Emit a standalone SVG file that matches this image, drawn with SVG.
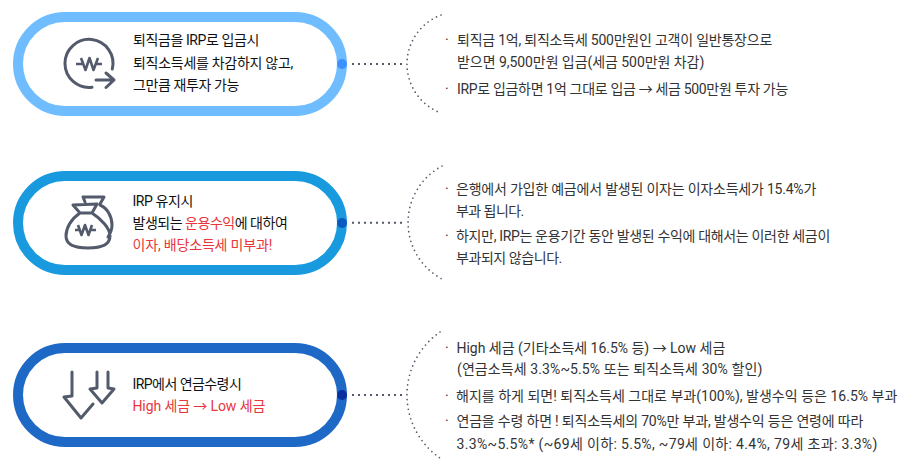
<svg xmlns="http://www.w3.org/2000/svg" width="909" height="470" viewBox="0 0 909 470">
<style>
text{font-family:Roboto,"Noto Sans CJK KR",sans-serif;font-size:14px;letter-spacing:-.3px}
.l{fill:#111}.r{fill:#e8363c}.d{fill:#333}
.pill{fill:#fff;stroke-width:10}
.ic{fill:none;stroke:#525a6b;stroke-width:3;stroke-linecap:round;stroke-linejoin:round}
.w{stroke-width:2.6;stroke-linecap:butt}
.dot{fill:none;stroke:#525a6b;stroke-width:2;stroke-dasharray:2 4}
.arc{fill:none;stroke:#525a6b;stroke-width:1.7;stroke-linecap:round;stroke-dasharray:0 4.9}
</style>
<rect width="909" height="470" fill="#fff"/>
<g id="connectors">
<path class="dot" d="M352 64H402"/><path class="arc" d="M441 15A52.300 52.300 0 0 0 441 113"/>
<path class="dot" d="M352 222.700H402"/><path class="arc" d="M442 166A64 64 0 0 0 442 279"/>
<path class="dot" d="M352 395H402"/><path class="arc" d="M440 332A76.600 76.600 0 0 0 440 458"/>
</g>
<g id="node1">
<rect class="pill" x="18" y="17" width="324" height="94" rx="47" stroke="#6fbdff"/>
<circle cx="342" cy="64" r="5" fill="#3c90ff"/>
<path class="ic" d="M92 87.200A24 24 0 1 1 112.300 69M96 80H114M106 73L114 80L106 87.500"/>
<path class="ic w" d="M76 64H82M97 64H102M81 58L85.500 70L89.500 58L93.500 70L98 58"/>
<text class="l" x="133" y="45" textLength="126">퇴직금을 IRP로 입금시</text>
<text class="l" x="133" y="67.500" textLength="160">퇴직소득세를 차감하지 않고,</text>
<text class="l" x="133" y="90" textLength="106">그만큼 재투자 가능</text>
</g>
<g id="node2">
<rect class="pill" x="18" y="176" width="324" height="94" rx="47" stroke="#1a9ade"/>
<circle cx="342" cy="223" r="5" fill="#0a5abf"/>
<path class="ic" d="M80 213L73 205L97 204L92 213ZM80 213C71 219 66 228 66 236C66 245 74 248 88 248C102 248 110 245 110 236C110 228 101 219 92 213M83 197H104L100 204M83 197L85 202M100 205C107 208 112 216 112 225C112 231 110 234 108 237"/>
<path class="ic w" d="M75 230H79M91 230H96M78 225L81.500 235L85 225L88.500 235L92 225"/>
<text class="l" x="132.500" y="206" textLength="60.500">IRP 유지시</text>
<text x="132.500" y="228" textLength="155"><tspan class="l">발생되는 </tspan><tspan class="r">운용수익</tspan><tspan class="l">에 대하여</tspan></text>
<text class="r" x="132.500" y="250" textLength="139.500">이자, 배당소득세 미부과!</text>
</g>
<g id="node3">
<rect class="pill" x="18" y="348" width="324" height="94" rx="47" stroke="#1f69c6"/>
<circle cx="342" cy="395" r="5" fill="#0a2f9f"/>
<path class="ic" d="M72 372V396L64 397L81 418L93 404M97 372V388L90 389L102 403L114 389L108 388V372"/>
<text class="l" x="132.500" y="389" textLength="109">IRP에서 연금수령시</text>
<text class="r" x="132.500" y="411" textLength="132.500">High 세금 → Low 세금</text>
</g>
<g id="text1">
<text class="d" x="445" y="45">·</text><text class="d" x="457" y="45" textLength="315">퇴직금 1억, 퇴직소득세 500만원인 고객이 일반통장으로</text>
<text class="d" x="457" y="67" textLength="247">받으면 9,500만원 입금(세금 500만원 차감)</text>
<text class="d" x="445" y="94">·</text><text class="d" x="457" y="94" textLength="331">IRP로 입금하면 1억 그대로 입금 → 세금 500만원 투자 가능</text>
</g>
<g id="text2">
<text class="d" x="445" y="194">·</text><text class="d" x="456" y="194" textLength="360">은행에서 가입한 예금에서 발생된 이자는 이자소득세가 15.4%가</text>
<text class="d" x="456" y="216" textLength="68">부과 됩니다.</text>
<text class="d" x="445" y="241">·</text><text class="d" x="456" y="241" textLength="374">하지만, IRP는 운용기간 동안 발생된 수익에 대해서는 이러한 세금이</text>
<text class="d" x="456" y="263" textLength="106">부과되지 않습니다.</text>
</g>
<g id="text3">
<text class="d" x="445" y="353">·</text><text class="d" x="456.500" y="353" textLength="268.500">High 세금 (기타소득세 16.5% 등) → Low 세금</text>
<text class="d" x="457" y="374" textLength="305">(연금소득세 3.3%~5.5% 또는 퇴직소득세 30% 할인)</text>
<text class="d" x="445" y="401">·</text><text class="d" x="456" y="401" textLength="441">해지를 하게 되면! 퇴직소득세 그대로 부과(100%), 발생수익 등은 16.5% 부과</text>
<text class="d" x="445" y="426">·</text><text class="d" x="456.500" y="426" textLength="406.500">연금을 수령 하면 ! 퇴직소득세의 70%만 부과, 발생수익 등은 연령에 따라</text>
<text class="d" x="456.500" y="449" textLength="420.500">3.3%~5.5%* (~69세 이하: 5.5%, ~79세 이하: 4.4%, 79세 초과: 3.3%)</text>
</g>
</svg>
